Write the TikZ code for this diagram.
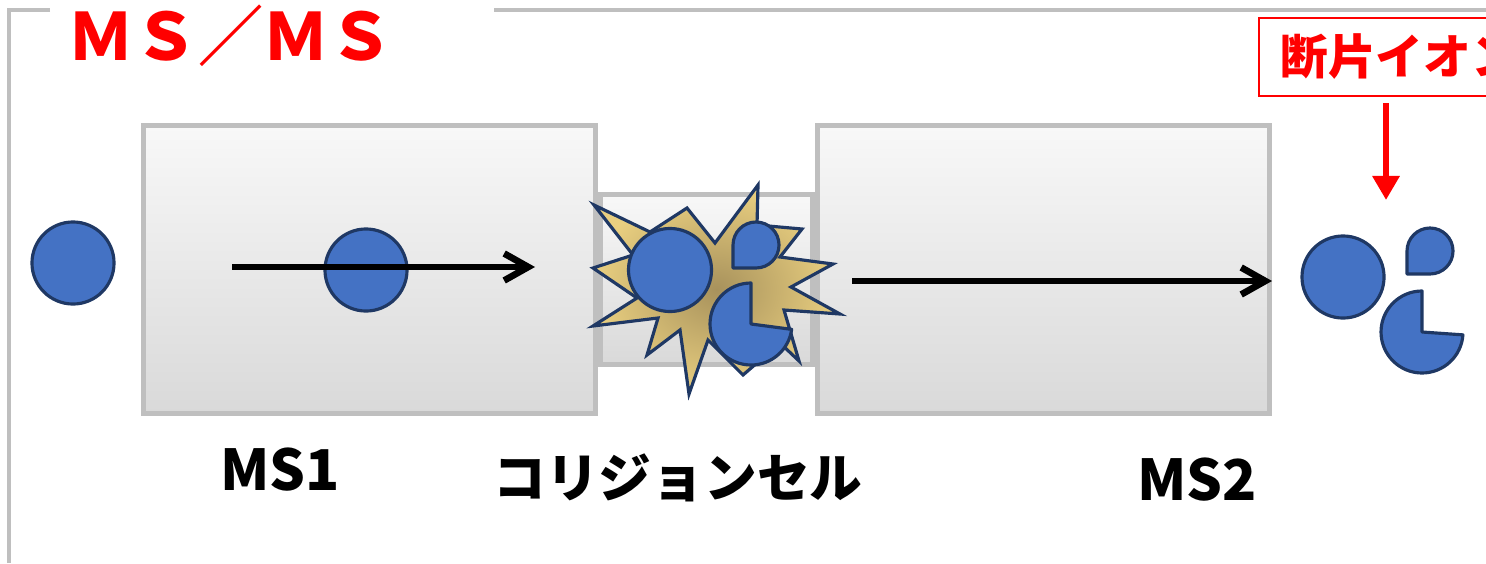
\documentclass[tikz,border=0pt]{standalone}
\usepackage{fontspec}
\usepackage{xcolor}
\usetikzlibrary{arrows.meta,positioning}
\newfontfamily\jpfont{Noto Sans CJK JP}
\definecolor{ionblue}{HTML}{4472C4}
\definecolor{ionedge}{HTML}{1F3864}
\definecolor{boxedge}{HTML}{BFBFBF}
\definecolor{boxtop}{HTML}{F8F8F8}
\definecolor{boxbottom}{HTML}{D9D9D9}
\definecolor{burstin}{HTML}{A8925C}
\definecolor{burstout}{HTML}{E9CF80}

\begin{document}
\begin{tikzpicture}[x=0.01cm,y=0.01cm,
    stage box/.style={draw=boxedge,line width=1.4pt,top color=boxtop,bottom color=boxbottom,inner sep=0pt},
    ion node/.style={circle,draw=ionedge,fill=ionblue,line width=0.9pt,inner sep=0pt,minimum size=0.82cm},
    ion piece/.style={draw=ionedge,fill=ionblue,line width=0.9pt,line join=round},
    burst/.style={draw=ionedge,line width=0.9pt,inner color=burstin,outer color=burstout},
    beam/.style={line width=1.9pt,-{Straight Barb[length=2.4mm,width=2.7mm]}},
    frag arrow/.style={red,line width=1.8pt,-{Triangle[length=2.4mm,width=2.6mm]}},
    part label/.style={font=\jpfont\bfseries\fontsize{16}{18}\selectfont},
    frag label/.style={draw=red,line width=0.7pt,text=red,inner xsep=0.21cm,minimum height=0.78cm,
        font=\jpfont\bfseries\fontsize{13.6}{15}\selectfont}]
    \useasboundingbox (0,0) rectangle (1486,563);
    \clip (0,0) rectangle (1486,563);

    % frame
    \draw[boxedge,line width=1pt] (50,553) -- (9,553) -- (9,0);
    \draw[boxedge,line width=1pt] (494,553) -- (1486,553);
    \node[text=red,font=\jpfont\bfseries\fontsize{18.5}{20}\selectfont] (title) at (231,527) {ＭＳ／ＭＳ};

    % MS1 -- collision cell -- MS2
    \node[stage box,minimum width=4.52cm,minimum height=2.88cm] (ms1) at (369.5,293.5) {};
    \node[stage box,minimum width=2.12cm,minimum height=1.70cm,right=0pt of ms1,yshift=-0.1cm] (cell) {};
    \node[stage box,minimum width=4.52cm,minimum height=2.88cm,right=0pt of cell,yshift=0.1cm] (ms2) {};

    \node[part label] (ms1 name) at (280,93) {MS1};
    \node[part label,font=\jpfont\bfseries\fontsize{15}{17}\selectfont] (cell name) at (678,85) {コリジョンセル};
    \node[part label] (ms2 name) at (1197,83) {MS2};

    % precursor ion
    \node[ion node] (ion in) at (73,300) {};
    \node[ion node] (ion ms1) at (366,293) {};
    \coordinate (beam1 start) at (232,296);
    \coordinate (beam1 end) at (535,296);
    \draw[beam] (beam1 start) -- (beam1 end);

    % collision
    \draw[burst] (594,358) -- (650,331) -- (687,355) -- (715,320) -- (758,378) -- (757,338)
        -- (802,334) -- (780,306) -- (833,299) -- (791,276) -- (840,249) -- (784,253)
        -- (799,202) -- (780,220) -- (743,188) -- (708,223) -- (689,169) -- (680,233)
        -- (647,208) -- (658,245) -- (593,237) -- (637,265) -- (593,295) -- (633,308) -- cycle;
    \node[ion node,minimum size=0.83cm] (ion cell) at (670,293) {};
    \draw[ion piece] (733,295) -- (733,318) arc[start angle=180,end angle=-90,radius=23] -- cycle;
    \draw[ion piece] (751,239) -- ++(90:41) arc[start angle=90,end angle=352.5,radius=41] -- cycle;

    \coordinate (beam2 start) at (852,282);
    \coordinate (beam2 end) at (1272,282);
    \draw[beam] (beam2 start) -- (beam2 end);

    % fragment ions
    \node[ion node] (ion out) at (1343,286) {};
    \draw[ion piece] (1407,289) -- (1407,312) arc[start angle=180,end angle=-90,radius=23] -- cycle;
    \draw[ion piece] (1422,231) -- ++(90:41) arc[start angle=90,end angle=356,radius=41] -- cycle;

    \node[frag label,anchor=west] (frag) at (1258,506) {断片イオン};
    \coordinate (frag top) at (1386,460);
    \coordinate (frag tip) at (1386,363);
    \draw[frag arrow] (frag top) -- (frag tip);
\end{tikzpicture}
\end{document}
